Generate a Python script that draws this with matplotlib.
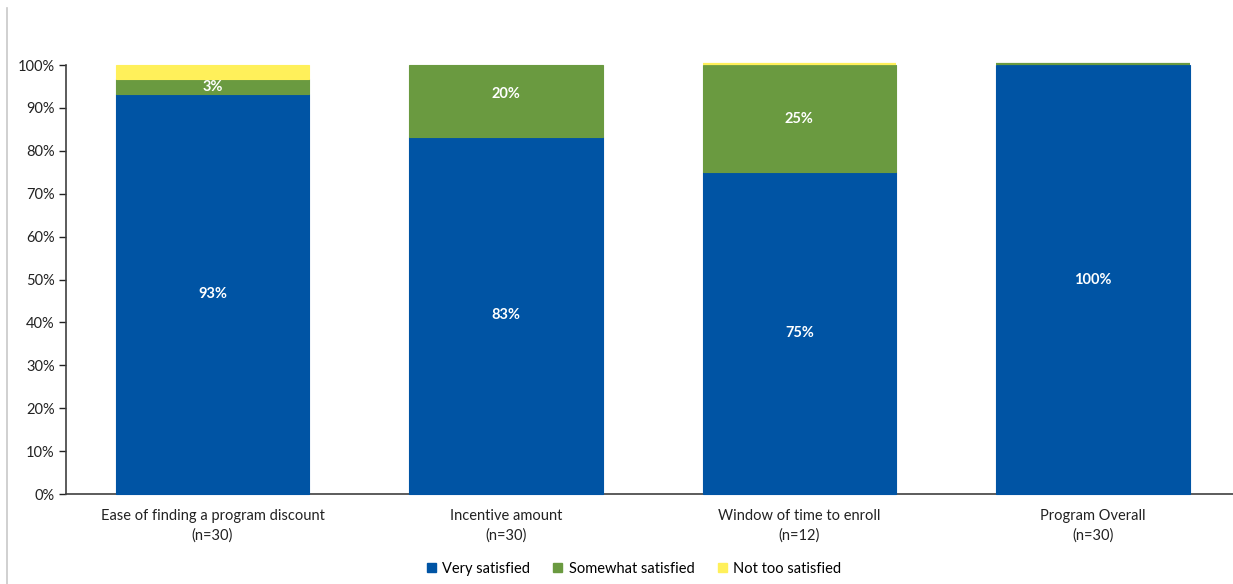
import numpy as np
import matplotlib
matplotlib.use("Agg")
import matplotlib.pyplot as plt
from matplotlib.lines import Line2D

plt.rcParams['font.family'] = ['Lato', 'DejaVu Sans']

categories = [
    "Ease of finding a program discount\n(n=30)",
    "Incentive amount\n(n=30)",
    "Window of time to enroll\n(n=12)",
    "Program Overall\n(n=30)",
]
very_satisfied = [28 / 30, 25 / 30, 9 / 12, 30 / 30]
somewhat_satisfied = [1 / 30, 0.20, 3 / 12, 0.0]
not_too_satisfied = [1 / 30, 0.0, 0.0, np.nan]
series_names = ["Very satisfied", "Somewhat satisfied", "Not too satisfied"]
series_colors = ["#0054A4", "#6A9A40", "#FFF05A"]
labelled = [True, True, False]

fig = plt.figure(figsize=(12.33, 5.84), dpi=100)
ax = fig.add_axes([0.0533, 0.154, 0.952, 0.7346])

x = np.arange(len(categories))
width = 0.66
bottom = np.zeros(len(categories))
for values, name, color, show in zip(
        [very_satisfied, somewhat_satisfied, not_too_satisfied],
        series_names, series_colors, labelled):
    vals = np.array(values, dtype=float)
    for i, v in enumerate(vals):
        if np.isnan(v) or bottom[i] >= 1.0 + 1e-9:
            continue
        drawn = min(bottom[i] + v, 1.0) - bottom[i]
        if drawn <= 1e-9:
            # empty segment: Excel still shows its outline as a thin rule
            ax.hlines(bottom[i] + 0.002, x[i] - width / 2, x[i] + width / 2,
                      color=color, linewidth=1.6, clip_on=False, zorder=4)
            continue
        ax.bar(x[i], drawn, width, bottom=bottom[i], color=color,
               edgecolor=color, linewidth=0.8, clip_on=False, zorder=3)
        if show and v > 0:
            ax.text(x[i], bottom[i] + v / 2, f"{v * 100:.0f}%",
                    ha="center", va="center", color="white",
                    fontsize=10.5, fontweight="bold", zorder=5)
    bottom = bottom + np.nan_to_num(vals)

ax.set_xlim(-0.5, len(categories) - 0.5)
ax.set_ylim(0, 1.0)
ticks = np.arange(0, 1.01, 0.1)
ax.set_yticks(ticks)
ax.set_yticklabels([f"{int(round(t * 100))}%" for t in ticks])
ax.set_xticks(x)
ax.set_xticklabels(categories, linespacing=1.45)
ax.tick_params(axis="x", length=0, pad=11, labelsize=10.5, colors="#222222")
ax.tick_params(axis="y", length=5, width=1, direction="out", pad=3,
               labelsize=10.5, colors="#222222")
for side in ["top", "right"]:
    ax.spines[side].set_visible(False)
for side in ["left", "bottom"]:
    ax.spines[side].set_color("#404040")
    ax.spines[side].set_linewidth(1.2)

handles = [plt.Rectangle((0, 0), 1, 1, color=c) for c in series_colors]
fig.legend(handles, series_names, loc="center", ncol=3,
           bbox_to_anchor=(634 / 1233, 1 - 569 / 584), frameon=False,
           fontsize=10.5, handlelength=0.6, handleheight=0.6,
           handletextpad=0.45, columnspacing=1.6)

fig.add_artist(Line2D([7 / 1233, 7 / 1233], [0, 1 - 8 / 584],
                      color="#C8C8C8", linewidth=1.2))

fig.savefig("out.png", dpi=100)
